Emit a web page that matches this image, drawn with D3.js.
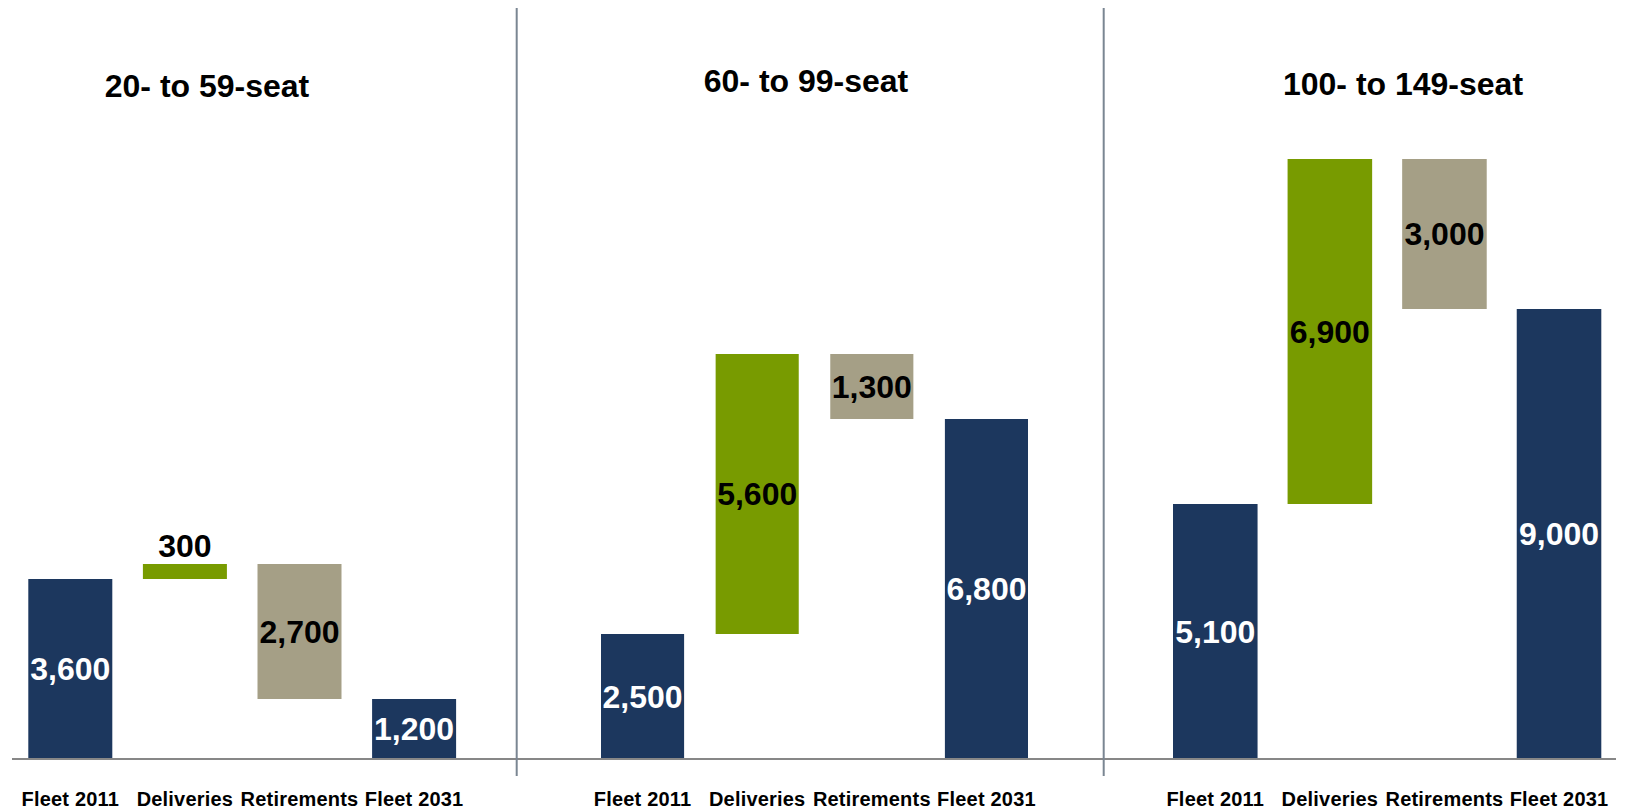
<!DOCTYPE html>
<html>
<head>
<meta charset="utf-8">
<script src="https://cdn.jsdelivr.net/npm/d3@7"></script>
<style>
  html, body { margin: 0; padding: 0; background: #ffffff; }
  svg { display: block; }
  text { font-family: "Liberation Sans", Arial, sans-serif; font-weight: bold; }
</style>
</head>
<body>
<svg id="chart" width="1625" height="812"></svg>
<script>
// Seat-class segments and the waterfall steps shown in each
const segments = ["20- to 59-seat", "60- to 99-seat", "100- to 149-seat"];
const steps = ["Fleet 2011", "Deliveries", "Retirements", "Fleet 2031"];

// Aircraft counts per segment
const fleet2011   = [3600, 2500, 5100];
const deliveries  = [300, 5600, 6900];
const retirements = [2700, 1300, 3000];
const fleet2031   = [1200, 6800, 9000];

const colors = {
  fleet: "#1c375e",
  deliveries: "#789b00",
  retirements: "#a59f86"
};

const svg = d3.select("#chart");
const baseY = 759;

// Shared value scale for all three panels
const y = d3.scaleLinear().domain([0, 12000]).range([baseY, 159]);

// Horizontal extent of the bars in each panel, with title centre and baseline
const panelLayout = [
  { x0: 28.3,  x1: 456.1,  inner: 0.267, titleX: 207,  titleY: 97 },
  { x0: 601,   x1: 1028,   inner: 0.275, titleX: 806,  titleY: 92 },
  { x0: 1173,  x1: 1601.3, inner: 0.262, titleX: 1403, titleY: 95 }
];

const fmt = d3.format(",");
const valueFont = 32;

segments.forEach((seg, i) => {
  const L = panelLayout[i];
  const x = d3.scaleBand().domain(steps).range([L.x0, L.x1])
    .paddingInner(L.inner).paddingOuter(0);

  const afterDeliv = fleet2011[i] + deliveries[i];
  const bars = [
    { step: steps[0], lo: 0, hi: fleet2011[i], value: fleet2011[i], fill: colors.fleet, ink: "#ffffff" },
    { step: steps[1], lo: fleet2011[i], hi: afterDeliv, value: deliveries[i], fill: colors.deliveries, ink: "#000000" },
    { step: steps[2], lo: afterDeliv - retirements[i], hi: afterDeliv, value: retirements[i], fill: colors.retirements, ink: "#000000" },
    { step: steps[3], lo: 0, hi: fleet2031[i], value: fleet2031[i], fill: colors.fleet, ink: "#ffffff" }
  ];

  const g = svg.append("g").attr("class", "panel");

  g.selectAll("rect.bar").data(bars).join("rect")
    .attr("class", "bar")
    .attr("x", d => x(d.step))
    .attr("width", x.bandwidth())
    .attr("y", d => y(d.hi))
    .attr("height", d => y(d.lo) - y(d.hi))
    .attr("fill", d => d.fill);

  // Value labels: centred in the bar, or just above it when the bar is too short
  g.selectAll("text.value").data(bars).join("text")
    .attr("class", "value")
    .attr("x", d => x(d.step) + x.bandwidth() / 2)
    .attr("y", d => {
      const h = y(d.lo) - y(d.hi);
      if (h < valueFont) return y(d.hi) - 7;
      return (y(d.lo) + y(d.hi)) / 2 + 0.358 * valueFont;
    })
    .attr("text-anchor", "middle")
    .attr("font-size", valueFont)
    .attr("fill", d => (y(d.lo) - y(d.hi) < valueFont) ? "#000000" : d.ink)
    .text(d => fmt(d.value));

  // Step labels under the baseline
  g.selectAll("text.step").data(steps).join("text")
    .attr("class", "step")
    .attr("x", d => x(d) + x.bandwidth() / 2)
    .attr("y", 805.5)
    .attr("text-anchor", "middle")
    .attr("font-size", 20)
    .attr("letter-spacing", 0.2)
    .attr("fill", "#000000")
    .text(d => d);

  // Panel title
  g.append("text")
    .attr("x", L.titleX)
    .attr("y", L.titleY)
    .attr("text-anchor", "middle")
    .attr("font-size", 32)
    .attr("fill", "#000000")
    .text(seg);
});

// Common baseline
svg.append("line")
  .attr("x1", 12).attr("x2", 1616)
  .attr("y1", baseY).attr("y2", baseY)
  .attr("stroke", "#878787").attr("stroke-width", 2);

// Panel dividers
[516.7, 1103.7].forEach(xd => {
  svg.append("line")
    .attr("x1", xd).attr("x2", xd)
    .attr("y1", 8).attr("y2", 776)
    .attr("stroke", "#7a8692").attr("stroke-width", 2);
});
</script>
</body>
</html>
